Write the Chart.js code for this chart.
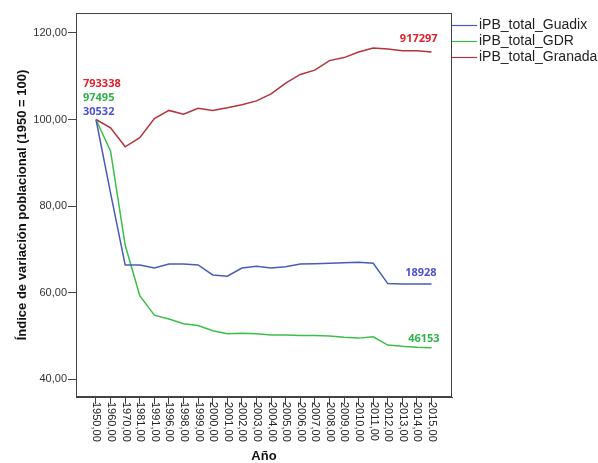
<!DOCTYPE html>
<html><head><meta charset="utf-8">
<script src="https://cdn.jsdelivr.net/npm/chart.js@4/dist/chart.umd.min.js"></script>
<style>html,body{margin:0;padding:0;background:#fff}#wrap{width:598px;height:463px}</style>
</head><body><div id="wrap"><canvas id="c" width="598" height="463"></canvas></div>
<script>
const years = ['1950,00','1960,00','1970,00','1981,00','1991,00','1996,00','1998,00','1999,00','2000,00','2001,00','2002,00','2003,00','2004,00','2005,00','2006,00','2007,00','2008,00','2009,00','2010,00','2011,00','2012,00','2013,00','2014,00','2015,00'];
const guadix = [100, 83, 66.4, 66.4, 65.7, 66.6, 66.6, 66.4, 64.1, 63.8, 65.7, 66.1, 65.7, 66.0, 66.6, 66.7, 66.8, 66.9, 67.0, 66.8, 62.1, 62.0, 62.0, 62.0];
const gdr = [100, 92.7, 71, 59.3, 54.8, 53.9, 52.8, 52.4, 51.2, 50.5, 50.6, 50.5, 50.2, 50.2, 50.1, 50.1, 50.0, 49.7, 49.5, 49.8, 47.9, 47.6, 47.4, 47.3];
const granada = [100, 98.1, 93.7, 95.8, 100.2, 102.1, 101.2, 102.6, 102.1, 102.7, 103.4, 104.3, 105.9, 108.4, 110.4, 111.4, 113.6, 114.3, 115.6, 116.5, 116.3, 115.9, 115.9, 115.6];
const seriesNames = ['iPB_total_Guadix', 'iPB_total_GDR', 'iPB_total_Granada'];
const startPop = ['30532', '97495', '793338'];
const endPop = ['18928', '46153', '917297'];
const yTitle = 'Índice de variación poblacional (1950 = 100)';
const xTitle = 'Año';

const lineColors = ['#4a5cb8', '#3cbf4a', '#b3343c'];
const labelColors = ['#5050d2', '#2eb34b', '#e0202a'];
const seriesValues = [guadix, gdr, granada];

const toPoints = arr => arr.map((v, i) => ({x: i, y: v}));

const overlay = {
  id: 'overlay',
  afterDraw(chart) {
    const ctx = chart.ctx;
    const a = chart.chartArea;
    const xs = chart.scales.x, ys = chart.scales.y;
    ctx.save();
    ctx.strokeStyle = '#444';
    ctx.lineWidth = 1;
    ctx.strokeRect(Math.round(a.left) + 0.5, Math.round(a.top) + 0.5, Math.round(a.right - a.left) - 1, Math.round(a.bottom - a.top) - 1);
    ctx.fillStyle = '#222';
    ctx.font = '11px "Liberation Sans", Arial, sans-serif';
    ctx.textAlign = 'left';
    ctx.textBaseline = 'middle';
    years.forEach((lab, i) => {
      const px = xs.getPixelForValue(i);
      ctx.save();
      ctx.translate(px + 0.5, a.bottom + 5);
      ctx.rotate(Math.PI / 2);
      ctx.fillText(lab, 0, 0);
      ctx.restore();
    });
    ctx.font = '14px "Liberation Sans", Arial, sans-serif';
    ctx.textBaseline = 'middle';
    seriesNames.forEach((n, i) => {
      const y = 25 + 16 * i;
      ctx.strokeStyle = lineColors[i];
      ctx.lineWidth = 1.2;
      ctx.beginPath();
      ctx.moveTo(a.right, y + 0.5);
      ctx.lineTo(a.right + 25, y + 0.5);
      ctx.stroke();
      ctx.fillStyle = '#222';
      ctx.fillText(n, a.right + 27, y);
    });
    ctx.font = 'bold 11px "Open Sans", sans-serif';
    const x0 = xs.getPixelForValue(0);
    const y0 = ys.getPixelForValue(100);
    const startOff = [-8, -22, -36];
    ctx.textAlign = 'left';
    [2, 1, 0].forEach(i => {
      ctx.fillStyle = labelColors[i];
      ctx.fillText(startPop[i], x0 - 13, y0 + startOff[i]);
    });
    const last = years.length - 1;
    const xl = xs.getPixelForValue(last);
    const endDx = [5, 8, 6];
    const endDy = [-11, -9, -13];
    ctx.textAlign = 'right';
    [0, 1, 2].forEach(i => {
      ctx.fillStyle = labelColors[i];
      ctx.fillText(endPop[i], xl + endDx[i], ys.getPixelForValue(seriesValues[i][last]) + endDy[i]);
    });
    ctx.restore();
  }
};

new Chart(document.getElementById('c'), {
  type: 'line',
  data: {
    datasets: seriesNames.map((n, i) => ({
      label: n,
      data: toPoints(seriesValues[i]),
      borderColor: lineColors[i],
      backgroundColor: lineColors[i],
      borderWidth: 1.5,
      pointRadius: 0,
      tension: 0,
      fill: false
    }))
  },
  options: {
    responsive: false,
    animation: false,
    devicePixelRatio: 1,
    layout: {padding: {left: 0, top: 13, right: 146, bottom: 0}},
    plugins: {legend: {display: false}, tooltip: {enabled: false}},
    scales: {
      x: {
        type: 'linear',
        min: -1.37,
        max: 24.4,
        afterBuildTicks: s => { s.ticks = years.map((_, i) => ({value: i})); },
        afterFit: s => { s.height = 66; },
        ticks: {display: false, includeBounds: false},
        grid: {display: true, drawOnChartArea: false, drawTicks: true, tickLength: 7, color: '#444'},
        border: {display: true, color: '#444'},
        title: {display: true, text: xTitle, color: '#111', font: {family: '"Liberation Sans", Arial, sans-serif', size: 13, weight: 'bold', lineHeight: 1}, padding: {top: 0, bottom: 0}}
      },
      y: {
        min: 35.9,
        max: 124.6,
        afterFit: s => { s.width = 76; },
        ticks: {
          stepSize: 20,
          includeBounds: false,
          padding: 1,
          color: '#333',
          font: {family: '"Liberation Sans", Arial, sans-serif', size: 11},
          callback: v => v.toFixed(2).replace('.', ',')
        },
        grid: {display: true, drawOnChartArea: false, drawTicks: true, tickLength: 8, color: '#444'},
        border: {display: true, color: '#444'},
        title: {display: true, text: yTitle, color: '#111', font: {family: '"Liberation Sans", Arial, sans-serif', size: 13, weight: 'bold'}, padding: {top: 14.7, bottom: 0}}
      }
    }
  },
  plugins: [overlay]
});
</script>
</body></html>
